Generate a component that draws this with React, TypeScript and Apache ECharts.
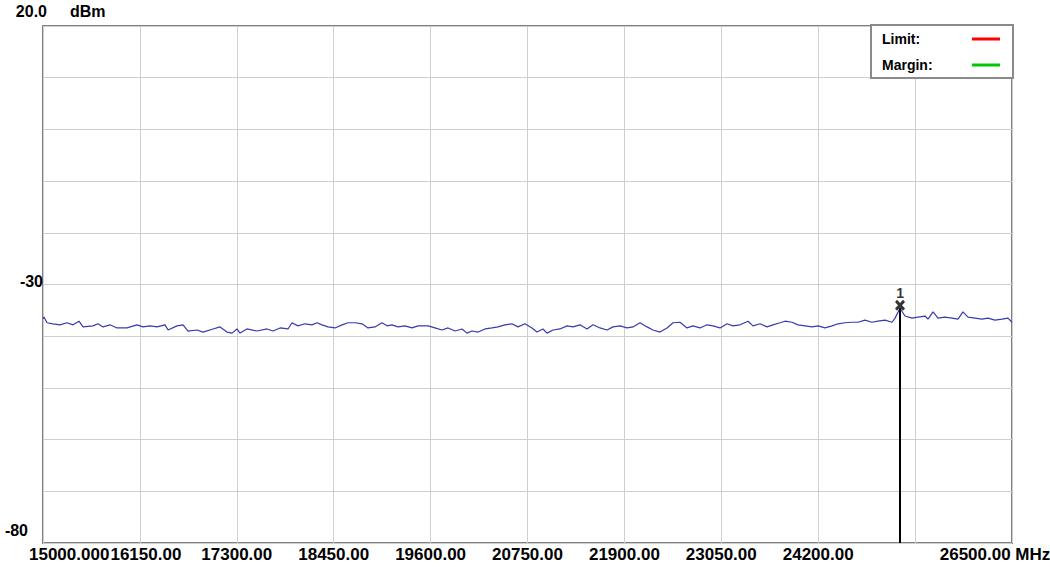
import React, { useEffect, useRef } from "react";
import * as echarts from "echarts";

// Trace: frequency (MHz) and level (dBm)
const freqMHz = [
  15000, 15012, 15047, 15119, 15202, 15285, 15356, 15427, 15475, 15593,
  15653, 15712, 15795, 15878, 15997, 16116, 16187, 16270, 16353, 16448,
  16484, 16590, 16662, 16721, 16828, 16899, 17018, 17101, 17184, 17243,
  17302, 17338, 17421, 17540, 17658, 17730, 17813, 17908, 17955, 18026,
  18109, 18192, 18252, 18311, 18382, 18465, 18549, 18620, 18703, 18786,
  18857, 18940, 19023, 19083, 19142, 19213, 19296, 19379, 19451, 19569,
  19652, 19735, 19807, 19890, 19973, 20032, 20091, 20163, 20246, 20329,
  20400, 20483, 20566, 20637, 20720, 20803, 20863, 20934, 20981, 21053,
  21136, 21219, 21290, 21373, 21456, 21527, 21610, 21694, 21765, 21848,
  21931, 22002, 22085, 22168, 22239, 22322, 22406, 22477, 22560, 22643,
  22714, 22797, 22880, 22952, 23035, 23118, 23189, 23272, 23367, 23426,
  23509, 23592, 23664, 23747, 23806, 23889, 23960, 24043, 24126, 24198,
  24281, 24364, 24435, 24518, 24601, 24672, 24755, 24838, 24909, 24993,
  25076, 25112, 25171, 25230, 25313, 25385, 25468, 25503, 25563, 25622,
  25705, 25788, 25859, 25918, 25978, 26061, 26144, 26215, 26298, 26381,
  26452, 26500,
];

const levelDbm = [
  -36.6, -36.3, -37.4, -37.6, -37.8, -37.4, -37.8, -37.1, -38.2, -38.0,
  -37.6, -38.2, -37.8, -38.4, -38.4, -37.8, -38.2, -38.0, -38.2, -37.8,
  -38.8, -38.0, -37.8, -39.0, -38.8, -39.2, -38.6, -38.2, -39.2, -39.4,
  -38.6, -39.4, -38.6, -39.0, -38.6, -39.0, -38.4, -38.6, -37.4, -38.0,
  -37.6, -37.8, -37.4, -37.8, -38.2, -38.4, -37.8, -37.4, -37.4, -37.6,
  -38.4, -38.2, -37.4, -38.0, -37.8, -38.2, -38.0, -38.4, -38.0, -38.0,
  -38.4, -38.8, -38.4, -39.0, -38.6, -39.4, -39.0, -39.2, -38.6, -38.4,
  -38.2, -37.8, -37.6, -38.2, -37.6, -38.4, -39.2, -38.6, -39.4, -38.8,
  -38.6, -38.0, -38.2, -37.8, -38.6, -37.8, -38.4, -38.8, -38.2, -38.0,
  -38.4, -38.2, -37.4, -38.2, -38.8, -39.2, -38.4, -37.4, -37.3, -38.4,
  -38.0, -38.4, -37.8, -38.0, -38.4, -37.6, -38.0, -37.8, -37.1, -38.0,
  -37.6, -38.2, -37.8, -37.4, -37.1, -37.3, -37.8, -38.0, -38.2, -38.0,
  -38.4, -38.0, -37.6, -37.4, -37.3, -37.3, -36.9, -37.3, -37.1, -36.9,
  -37.3, -36.5, -34.6, -36.1, -36.5, -36.3, -36.1, -36.7, -35.3, -36.5,
  -36.3, -36.5, -36.7, -35.3, -36.3, -36.5, -36.7, -36.5, -36.9, -36.7,
  -36.5, -37.3,
];

// Marker
const markerFreq = 25171;
const markerLevel = -34.6;
const markerName = "1";

// Axes
const xMin = 15000;
const xMax = 26500;
const xStep = 1150;
const xHiddenTicks = [25350];
const xUnit = "MHz";
const yMin = -80;
const yMax = 20;
const yStep = 10;
const yTickValues = [20, -30, -80];
const yTickLabels = ["20.0", "-30", "-80"];
const yTickStyles = ["top", "mid", "bot"];
const yUnit = "dBm";

const legendNames = ["Limit", "Margin"];
const legendColors = ["#ff0000", "#00c800"];

const FONT = "Liberation Sans";

const xl = (extra: any) => ({
  fontFamily: FONT,
  fontSize: 17,
  fontWeight: "bold",
  color: "#000000",
  ...extra,
});
const yl = (extra: any) => ({
  fontFamily: FONT,
  fontSize: 16,
  fontWeight: "bold",
  color: "#000000",
  ...extra,
});

export default function App() {
  const ref = useRef<HTMLDivElement>(null);

  useEffect(() => {
    if (!ref.current) return;
    const chart = echarts.init(ref.current, null, { renderer: "svg" });

    const trace = freqMHz.map((f, i) => [f, levelDbm[i]]);

    const option: any = {
      animation: false,
      backgroundColor: "#ffffff",
      textStyle: { fontFamily: FONT },
      grid: {
        left: 43,
        top: 26,
        width: 969,
        height: 517,
        containLabel: false,
        outerBoundsMode: "none",
        show: true,
        borderColor: "#808080",
        borderWidth: 2,
        backgroundColor: "#ffffff",
      },
      graphic: [
        {
          type: "text",
          left: 29,
          top: 546,
          silent: true,
          style: {
            text: xMin.toFixed(3),
            font: `bold 17px "${FONT}"`,
            fill: "#000000",
          },
        },
      ],
      legend: {
        data: legendNames.map((n) => ({
          name: n,
          icon: "path://M0,0 L28,0 L28,3 L0,3 Z",
        })),
        orient: "vertical",
        left: 871,
        top: 25,
        align: "right",
        selectedMode: false,
        symbolKeepAspect: true,
        itemWidth: 28,
        itemHeight: 14,
        itemGap: 12,
        padding: [7, 13, 6, 11],
        backgroundColor: "#ffffff",
        borderColor: "#8a8a8a",
        borderWidth: 2,
        formatter: (name: string) => `{n|${name}:}`,
        textStyle: {
          fontFamily: FONT,
          fontSize: 14,
          fontWeight: "bold",
          color: "#000000",
          lineHeight: 14,
          rich: {
            n: {
              width: 85,
              align: "left",
              fontFamily: FONT,
              fontSize: 14,
              fontWeight: "bold",
              color: "#000000",
              lineHeight: 14,
            },
          },
        },
      },
      xAxis: {
        type: "value",
        min: xMin,
        max: xMax,
        interval: xStep,
        axisLine: { show: false },
        axisTick: { show: false },
        splitLine: { show: true, lineStyle: { color: "#cfcfcf", width: 1 } },
        axisLabel: {
          show: true,
          showMinLabel: true,
          showMaxLabel: true,
          hideOverlap: false,
          margin: 3,
          ...xl({}),
          formatter: (v: number) => {
            if (xHiddenTicks.includes(v)) return "";
            if (v === xMin) return "";
            if (v === xMax) return `{last|${v.toFixed(2)} ${xUnit}}`;
            if (v === xMin + xStep) return `{second|${v.toFixed(2)}}`;
            return v.toFixed(2);
          },
          rich: {
            second: xl({ padding: [0, 0, 0, 12] }),
            last: xl({ padding: [0, 34, 0, 0] }),
          },
        },
      },
      yAxis: {
        type: "value",
        min: yMin,
        max: yMax,
        interval: yStep,
        name: yUnit,
        nameLocation: "end",
        nameGap: 15,
        nameTextStyle: yl({
          align: "left",
          verticalAlign: "middle",
          padding: [0, 0, 0, 27],
        }),
        axisLine: { show: false },
        axisTick: { show: false },
        splitLine: { show: true, lineStyle: { color: "#cfcfcf", width: 1 } },
        axisLabel: {
          show: true,
          showMinLabel: true,
          showMaxLabel: true,
          margin: -4,
          ...yl({}),
          formatter: (v: number) => {
            const i = yTickValues.indexOf(v);
            if (i < 0) return "";
            return `{${yTickStyles[i]}|${yTickLabels[i]}}`;
          },
          rich: {
            top: yl({ padding: [0, 0, 30, 0] }),
            mid: yl({ padding: [0, 4, 6, 0] }),
            bot: yl({ padding: [0, 19, 26, 0] }),
          },
        },
      },
      series: [
        {
          name: "Trace",
          type: "line",
          data: trace,
          symbol: "none",
          z: 3,
          lineStyle: { color: "#3a3ab0", width: 1.2 },
          itemStyle: { color: "#3a3ab0" },
        },
        {
          name: "MarkerLine",
          type: "line",
          data: [
            [markerFreq, markerLevel],
            [markerFreq, yMin],
          ],
          symbol: "none",
          z: 4,
          lineStyle: { color: "#000000", width: 2 },
          itemStyle: { color: "#000000" },
        },
        {
          name: "Marker",
          type: "scatter",
          data: [[markerFreq, markerLevel]],
          symbol:
            "path://M0,2 L2,0 L5,3 L8,0 L10,2 L7,5 L10,8 L8,10 L5,7 L2,10 L0,8 L3,5 Z",
          symbolSize: [10, 11],
          symbolOffset: [0, -3],
          z: 5,
          itemStyle: { color: "#000000" },
          label: {
            show: true,
            formatter: markerName,
            position: "top",
            distance: 0,
            fontFamily: FONT,
            fontSize: 14,
            fontWeight: "bold",
            color: "#000000",
          },
        },
        ...legendNames.map((n, i) => ({
          name: n,
          type: "line",
          data: [],
          symbol: "none",
          color: legendColors[i],
          lineStyle: { color: legendColors[i], width: 3 },
          itemStyle: { color: legendColors[i] },
        })),
      ],
    };

    chart.setOption(option);
    return () => chart.dispose();
  }, []);

  return (
    <div
      ref={ref}
      style={{ position: "absolute", left: 0, top: 0, width: 1050, height: 567 }}
    />
  );
}
